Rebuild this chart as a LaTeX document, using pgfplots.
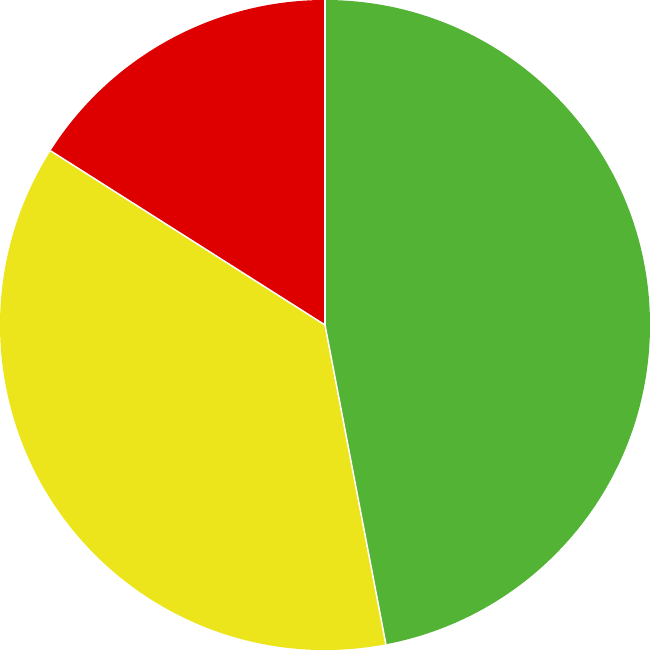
\documentclass[border=0pt]{standalone}
\usepackage{pgfplots}
\pgfplotsset{compat=1.18}
\definecolor{pgreen}{HTML}{52B335}
\definecolor{pyellow}{HTML}{ECE51C}
\definecolor{pred}{HTML}{DE0000}
\begin{document}
\begin{tikzpicture}
\begin{axis}[hide axis, scale only axis, width=6cm, height=6cm,
  xmin=-1, xmax=1, ymin=-1, ymax=1, clip=false]
\addplot[draw=none, forget plot] coordinates {(0,0)};
\coordinate (c) at (axis cs:0,0);
% values: 47, 37, 16 (percent), clockwise from 12 o'clock
\fill[pgreen] (axis cs:0,0) -- ++(90:3cm) arc[start angle=90, delta angle=-169.2, radius=3cm] -- cycle;
\fill[pyellow] (axis cs:0,0) -- ++(-79.2:3cm) arc[start angle=-79.2, delta angle=-133.2, radius=3cm] -- cycle;
\fill[pred] (axis cs:0,0) -- ++(-212.4:3cm) arc[start angle=-212.4, delta angle=-57.6, radius=3cm] -- cycle;
\draw[white, line width=0.4pt] (axis cs:0,0) -- ++(90:3cm);
\draw[white, line width=0.4pt] (axis cs:0,0) -- ++(-79.2:3cm);
\draw[white, line width=0.4pt] (axis cs:0,0) -- ++(-212.4:3cm);
\end{axis}
\pgfresetboundingbox
\path[use as bounding box] ([shift={(-3cm,-3cm)}]c) rectangle ([shift={(3cm,3cm)}]c);
\end{tikzpicture}
\end{document}
